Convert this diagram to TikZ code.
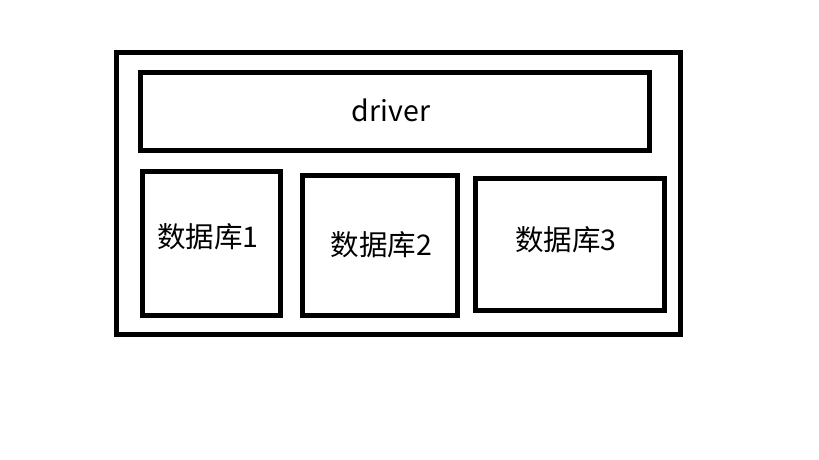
\documentclass[tikz,border=0pt]{standalone}
\usepackage{fontspec}
\setmainfont{Noto Sans CJK SC}
\usetikzlibrary{positioning}

\begin{document}
\begin{tikzpicture}[x=1pt,y=-1pt,
  box/.style={draw,line width=5pt,inner sep=0pt,minimum width=#1},
  lbl/.style={font=\fontsize{28.5}{32}\selectfont}]
  \useasboundingbox (0,0) rectangle (819,460);
  \node[box=564.5pt,minimum height=281.5pt] (outer) at (398.25,193.25) {};
  \node[box=508.5pt,minimum height=78pt] (driver) at (394.75,111.5) {};
  \node[box=137.5pt,minimum height=144pt] (db1) at (211.25,243.5) {};
  \node[box=155pt,minimum height=139.5pt] (db2) at (380,245.25) {};
  \node[box=188.5pt,minimum height=132pt] (db3) at (569.75,244.5) {};
  \node[lbl] (driverl) at (391,110) {driver};
  \node[lbl] (db1l) at (208,237) {数据库1};
  \node[lbl] (db2l) at (381.5,245) {数据库2};
  \node[lbl] (db3l) at (566,240) {数据库3};
\end{tikzpicture}
\end{document}
